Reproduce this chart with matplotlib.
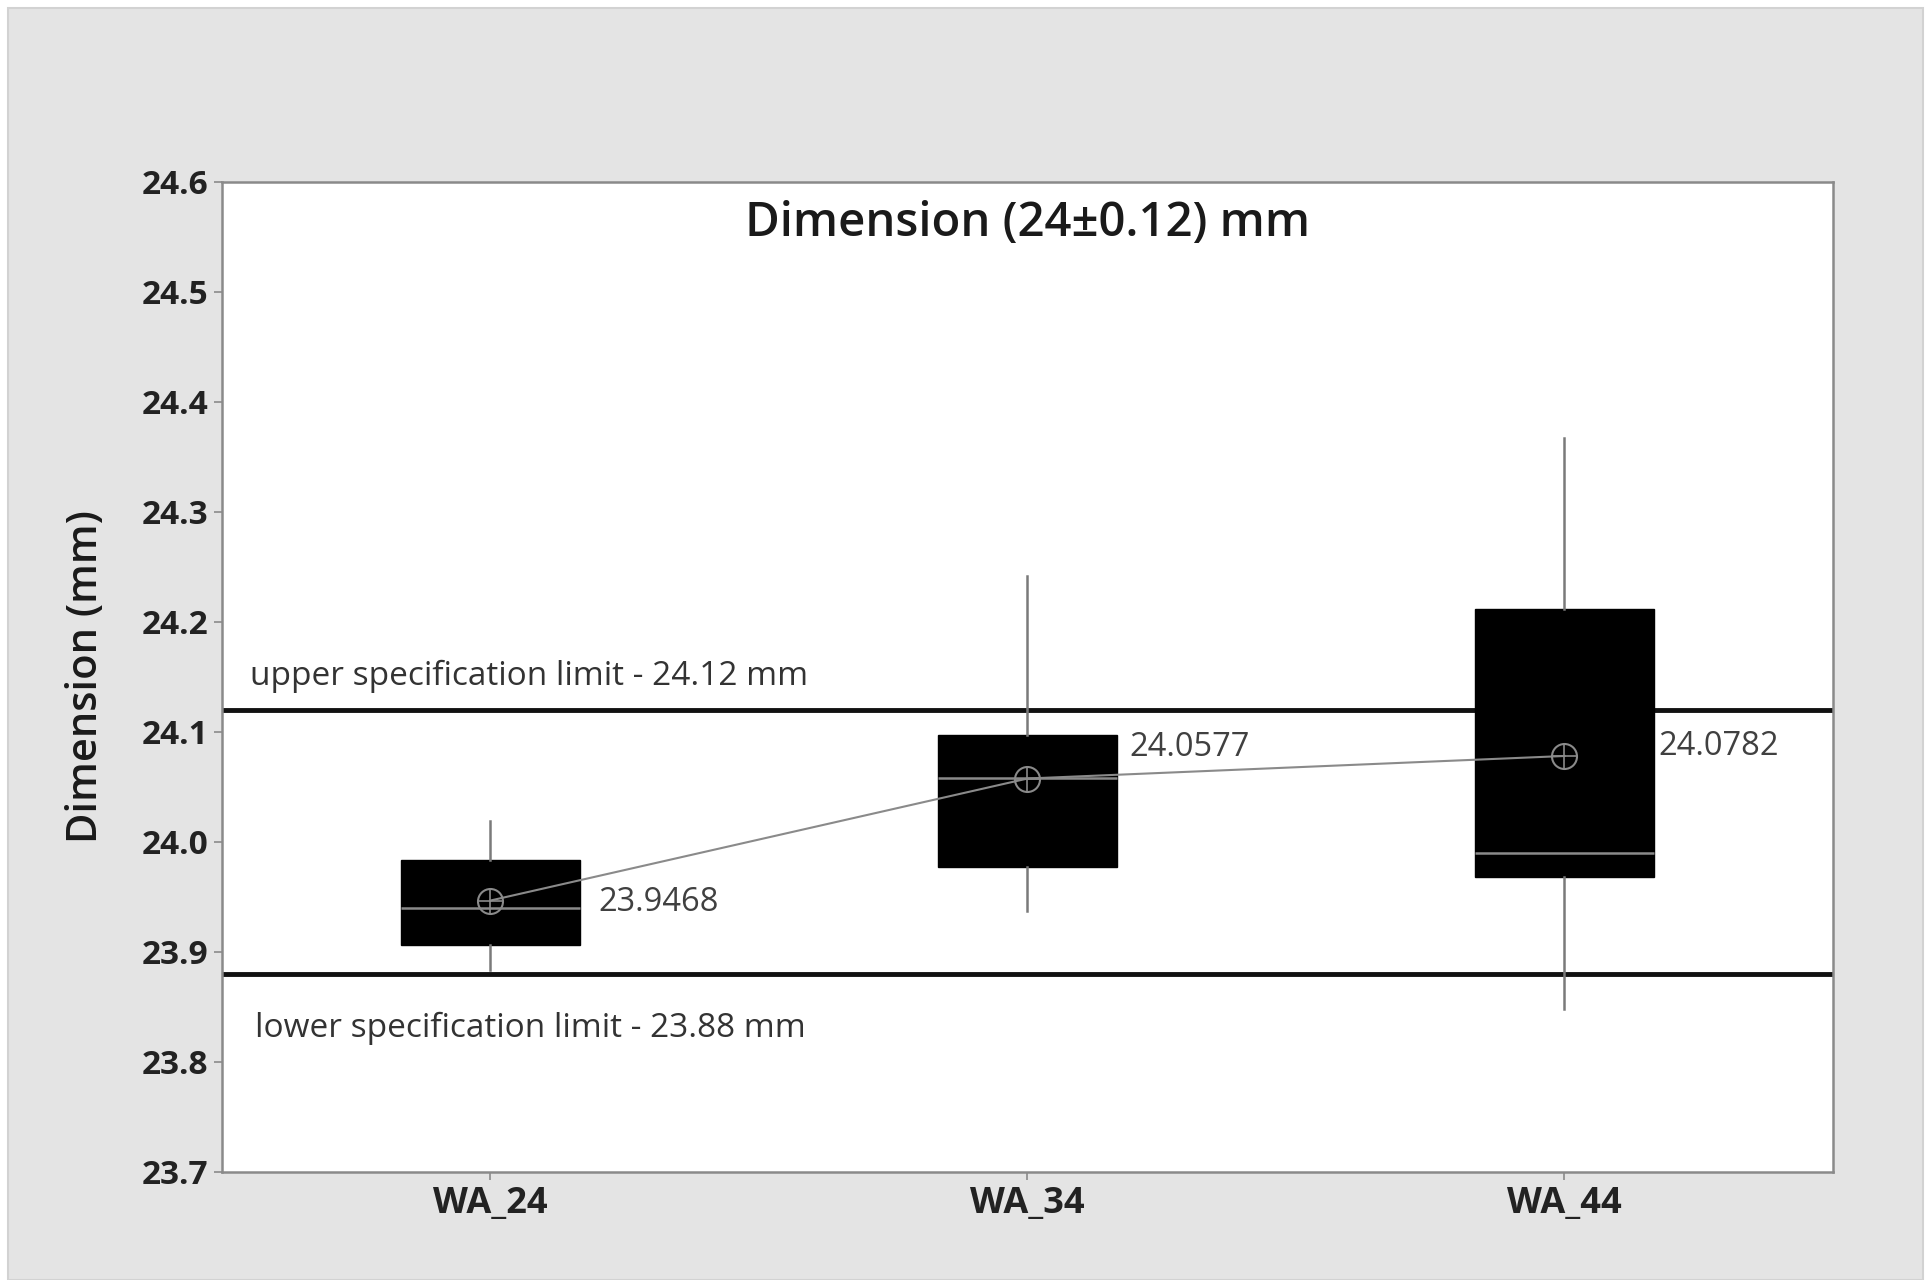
import matplotlib
matplotlib.use("Agg")
import matplotlib.pyplot as plt
from matplotlib.patches import Rectangle

# Box statistics per group (mm)
groups = ["WA_24", "WA_34", "WA_44"]
whisker_low = [23.884, 23.937, 23.848]
q1 = [23.906, 23.977, 23.968]
median = [23.940, 24.058, 23.990]
q3 = [23.984, 24.097, 24.212]
whisker_high = [24.019, 24.242, 24.367]
means = [23.9468, 24.0577, 24.0782]
mean_labels = ["23.9468", "24.0577", "24.0782"]

usl = 24.12
lsl = 23.88
y_ticks = [23.7, 23.8, 23.9, 24.0, 24.1, 24.2, 24.3, 24.4, 24.5, 24.6]

plt.rcParams["font.family"] = ["Open Sans", "DejaVu Sans"]

W, H = 1933, 1280
fig = plt.figure(figsize=(W / 100, H / 100), dpi=100, facecolor="white")

# gray panel behind the plot
fig.patches.append(Rectangle((8 / W, 0), (1923 - 8) / W, (H - 8) / H,
                             transform=fig.transFigure, facecolor="#e4e4e4",
                             edgecolor="#d2d2d2", linewidth=1.5, zorder=-10))

ax = fig.add_axes([222 / W, 1 - 1172 / H, (1833 - 222) / W, (1172 - 182) / H])
ax.set_zorder(1)
ax.set_facecolor("white")

positions = [1, 2, 3]
stats = []
for i, g in enumerate(groups):
    stats.append(dict(label=g, whislo=whisker_low[i], q1=q1[i], med=median[i],
                      q3=q3[i], whishi=whisker_high[i], fliers=[]))

ax.bxp(stats, positions=positions, widths=0.335, patch_artist=True,
       showcaps=False, showfliers=False,
       boxprops=dict(facecolor="black", edgecolor="black", linewidth=1),
       medianprops=dict(color="#8a8a8a", linewidth=1.8),
       whiskerprops=dict(color="#7a7a7a", linewidth=1.8),
       zorder=2)

# specification limits
ax.axhline(usl, color="#111111", linewidth=3.5, zorder=1)
ax.axhline(lsl, color="#111111", linewidth=3.5, zorder=1)
ax.text(0.553, 24.151, "upper specification limit - 24.12 mm", fontsize=24,
        color="#333333", va="center", ha="left")
ax.text(0.562, 23.831, "lower specification limit - 23.88 mm", fontsize=24,
        color="#333333", va="center", ha="left")

# connected means
ax.plot(positions, means, color="#8a8a8a", linewidth=1.5, zorder=3)
ax.plot(positions, means, linestyle="none", marker="o", markersize=18,
        markerfacecolor="none", markeredgecolor="#8a8a8a", markeredgewidth=1.5, zorder=4)
ax.plot(positions, means, linestyle="none", marker="+", markersize=18,
        markeredgecolor="#8a8a8a", markeredgewidth=1.2, zorder=4)

label_dy = [-0.002, 0.028, 0.009]
label_dx = [0.2, 0.19, 0.175]
for x, m, lab, dx, dy in zip(positions, means, mean_labels, label_dx, label_dy):
    ax.text(x + dx, m + dy, lab, fontsize=23.5, color="#404040",
            va="center", ha="left")

ax.set_xlim(0.5, 3.5)
ax.set_ylim(23.7, 24.6)
ax.set_yticks(y_ticks)
ax.set_yticklabels([f"{v:.1f}" for v in y_ticks])
ax.set_xticks(positions)
ax.set_xticklabels(groups)

for lab in ax.get_yticklabels():
    lab.set_fontsize(24)
    lab.set_fontweight("bold")
    lab.set_color("#222222")
for lab in ax.get_xticklabels():
    lab.set_fontsize(26)
    lab.set_fontweight("bold")
    lab.set_color("#222222")

ax.tick_params(axis="both", direction="out", length=6, width=1.2,
               color="#8a8a8a", pad=4)

for s in ax.spines.values():
    s.set_color("#8a8a8a")
    s.set_linewidth(1.8)

ax.text(0.5, 0.958, "Dimension (24\u00b10.12) mm", transform=ax.transAxes,
        fontsize=34, fontweight="semibold", color="#1a1a1a",
        ha="center", va="center")

ax.set_ylabel("Dimension (mm)", fontsize=30, fontweight="semibold",
              color="#1a1a1a", labelpad=25)

fig.savefig("out.png", dpi=100, facecolor=fig.get_facecolor())
